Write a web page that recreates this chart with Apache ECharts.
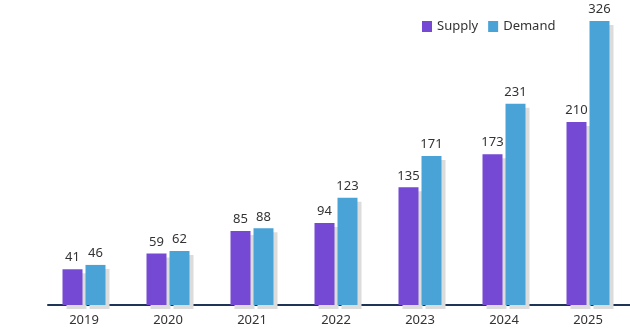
<!DOCTYPE html>
<html><head><meta charset="utf-8">
<script src="https://cdn.jsdelivr.net/npm/echarts@6/dist/echarts.min.js"></script>
<style>html,body{margin:0;padding:0;background:#fff}#c{width:630px;height:335px}</style>
</head><body><div id="c"></div>
<script>
const categories = ['2019','2020','2021','2022','2023','2024','2025'];
const supply = [41, 59, 85, 94, 135, 173, 210];
const demand = [46, 62, 88, 123, 171, 231, 326];
const font = '"Noto Sans", sans-serif';
const chart = echarts.init(document.getElementById('c'));
const shadow = {shadowColor:'#dcdcdc', shadowOffsetX:4, shadowOffsetY:4, shadowBlur:0};
chart.setOption({
  animation:false,
  textStyle:{fontFamily:font},
  legend:{left:417, top:15, itemWidth:10, itemHeight:11, itemGap:10, icon:'rect',
    textStyle:{fontSize:13, color:'#333', fontFamily:font}, data:['Supply','Demand']},
  grid:[
    {left:42, right:0, top:0, bottom:30},
    {left:48, right:0, top:0, bottom:30}
  ],
  xAxis:[
    {type:'category', data:categories, gridIndex:0,
      axisLine:{show:false}, axisTick:{show:false},
      axisLabel:{color:'#333', fontSize:13, margin:9, fontFamily:font}},
    {type:'category', data:categories, gridIndex:1,
      axisLine:{lineStyle:{color:'#1f3557', width:2}}, axisTick:{show:false},
      axisLabel:{show:false}}
  ],
  yAxis:[
    {type:'value', min:0, max:350, show:false, splitLine:{show:false}, gridIndex:0},
    {type:'value', min:0, max:350, show:false, splitLine:{show:false}, gridIndex:1}
  ],
  series:[
    {name:'Supply', type:'bar', data:supply, barWidth:20, barGap:'15%', z:3,
      itemStyle:Object.assign({color:'#7549d3'}, shadow),
      label:{show:true, position:'top', distance:5, color:'#333', fontSize:13, fontFamily:font}},
    {name:'Demand', type:'bar', data:demand, barWidth:20, z:3,
      itemStyle:Object.assign({color:'#4aa3d7'}, shadow),
      label:{show:true, position:'top', distance:5, color:'#333', fontSize:13, fontFamily:font}}
  ]
});
</script></body></html>
